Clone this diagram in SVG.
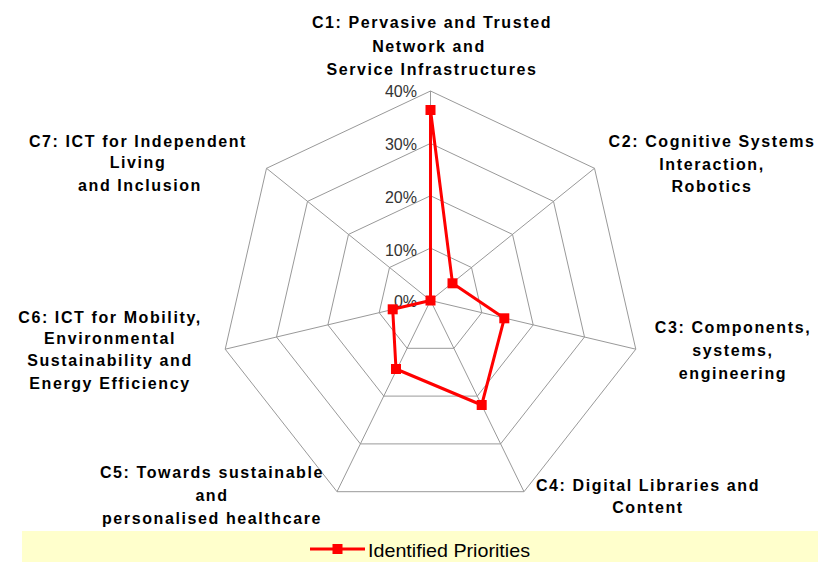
<svg xmlns="http://www.w3.org/2000/svg" width="822" height="562" viewBox="0 0 822 562">
<style>
.grid{fill:none;stroke:#999999;stroke-width:1}
.tick{font-family:"Liberation Sans",Arial,sans-serif;font-size:16px;fill:#333333;text-anchor:end}
.cat{font-family:"Liberation Sans",Arial,sans-serif;font-size:16px;font-weight:bold;fill:#000000;text-anchor:middle;letter-spacing:1.6px}
.series{fill:none;stroke:#FF0000;stroke-width:3;stroke-linejoin:round}
.mk{fill:#FF0000}
.leg{font-family:"Liberation Sans",Arial,sans-serif;font-size:19px;fill:#000000}
</style>
<defs>
<rect id="m" x="-5" y="-5" width="10" height="10" class="mk"/>
</defs>
<rect width="822" height="562" fill="#ffffff"/>
<g id="grid">
<polygon class="grid" points="430.5,248.1 471.5,267.5 481.8,312.7 453.9,348.3 407.1,348.3 379.2,312.7 389.5,267.5"/>
<polygon class="grid" points="430.5,195.75 512.5,234.4 533.2,324.9 477.3,396.1 383.8,396.1 327.9,324.9 348.5,234.4"/>
<polygon class="grid" points="430.5,143.4 553.5,201.4 584.5,337 500.6,443.9 360.4,443.9 276.5,337 307.5,201.4"/>
<polygon class="grid" points="430.5,91 594.5,168.3 635.8,349.2 524,491.7 337,491.7 225.2,349.2 266.5,168.3"/>
<path class="grid" d="M430.5,300.5L430.5,91M430.5,300.5L594.5,168.3M430.5,300.5L635.8,349.2M430.5,300.5L524,491.7M430.5,300.5L337,491.7M430.5,300.5L225.2,349.2M430.5,300.5L266.5,168.3"/>
</g>
<g id="ticks">
<text class="tick" x="417" y="97">40%</text>
<text class="tick" x="417" y="150">30%</text>
<text class="tick" x="417" y="203">20%</text>
<text class="tick" x="417" y="256">10%</text>
<text class="tick" x="417" y="307">0%</text>
</g>
<g id="C1"><text class="cat" x="432" y="28">C1: Pervasive and Trusted</text><text class="cat" x="429" y="52">Network and</text><text class="cat" x="432" y="75">Service Infrastructures</text></g>
<g id="C2"><text class="cat" x="712" y="147">C2: Cognitive Systems</text><text class="cat" x="712" y="170">Interaction,</text><text class="cat" x="712" y="192">Robotics</text></g>
<g id="C3"><text class="cat" x="733" y="333">C3: Components,</text><text class="cat" x="733" y="356">systems,</text><text class="cat" x="733" y="379">engineering</text></g>
<g id="C4"><text class="cat" x="648" y="491">C4: Digital Libraries and</text><text class="cat" x="648" y="513">Content</text></g>
<g id="C5"><text class="cat" x="212" y="478">C5: Towards sustainable</text><text class="cat" x="212" y="501">and</text><text class="cat" x="212" y="524">personalised healthcare</text></g>
<g id="C6"><text class="cat" x="110" y="323">C6: ICT for Mobility,</text><text class="cat" x="110" y="344">Environmental</text><text class="cat" x="110" y="366">Sustainability and</text><text class="cat" x="110" y="389">Energy Efficiency</text></g>
<g id="C7"><text class="cat" x="138" y="147">C7: ICT for Independent</text><text class="cat" x="138" y="168">Living</text><text class="cat" x="140" y="191">and Inclusion</text></g>
<g id="connectors">
<polygon class="series" points="430.5,110 452.5,283.3 504.3,318.3 481.7,405 396,369 392.7,309.3 430.5,300.5"/>
<use href="#m" x="430.5" y="110"/>
<use href="#m" x="452.5" y="283.3"/>
<use href="#m" x="504.3" y="318.3"/>
<use href="#m" x="481.7" y="405"/>
<use href="#m" x="396" y="369"/>
<use href="#m" x="392.7" y="309.3"/>
<use href="#m" x="430.5" y="300.5"/>
</g>
<g id="legend">
<rect x="22" y="531" width="796" height="31" fill="#FFFFCC"/>
<line x1="310" y1="549" x2="365" y2="549" stroke="#FF0000" stroke-width="3"/>
<use href="#m" x="337.5" y="549"/>
<text class="leg" x="368" y="557" textLength="162" lengthAdjust="spacingAndGlyphs">Identified Priorities</text>
</g>
</svg>
